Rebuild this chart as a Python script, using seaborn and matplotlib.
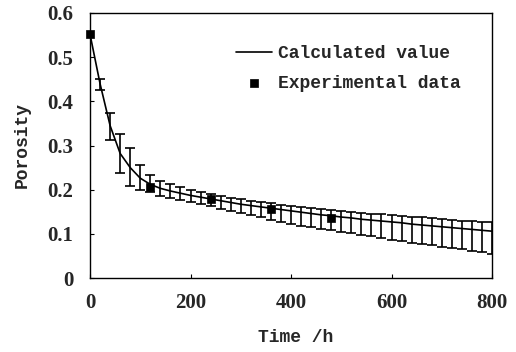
import numpy as np
import pandas as pd
import matplotlib
matplotlib.use("Agg")
import matplotlib.pyplot as plt
import seaborn as sns

# ---- data ----
time_h = [0, 20, 40, 60, 80, 100, 120, 140, 160, 180, 200, 220, 240, 260, 280, 300,
          320, 340, 360, 380, 400, 420, 440, 460, 480, 500, 520, 540, 560, 580, 600,
          620, 640, 660, 680, 700, 720, 740, 760, 780, 800]
calc_value = [0.552, 0.440, 0.345, 0.282, 0.250, 0.226, 0.212, 0.203, 0.197, 0.192,
              0.187, 0.183, 0.179, 0.175, 0.171, 0.167, 0.164, 0.161, 0.158, 0.155,
              0.152, 0.149, 0.146, 0.143, 0.141, 0.138, 0.136, 0.133, 0.131, 0.129,
              0.127, 0.125, 0.122, 0.120, 0.118, 0.116, 0.114, 0.112, 0.110, 0.108, 0.106]
upper_bound = [0.552, 0.451, 0.373, 0.327, 0.294, 0.256, 0.233, 0.220, 0.212, 0.206,
               0.200, 0.195, 0.190, 0.186, 0.182, 0.178, 0.175, 0.172, 0.169, 0.166,
               0.163, 0.160, 0.158, 0.156, 0.154, 0.152, 0.150, 0.148, 0.146, 0.144,
               0.142, 0.140, 0.138, 0.137, 0.135, 0.133, 0.132, 0.130, 0.129, 0.127, 0.126]
lower_bound = [0.552, 0.425, 0.313, 0.237, 0.209, 0.199, 0.194, 0.186, 0.182, 0.177,
               0.172, 0.167, 0.162, 0.157, 0.152, 0.148, 0.142, 0.137, 0.132, 0.127,
               0.122, 0.118, 0.115, 0.111, 0.108, 0.104, 0.101, 0.097, 0.094, 0.090,
               0.087, 0.084, 0.080, 0.077, 0.074, 0.071, 0.068, 0.065, 0.061, 0.058, 0.055]
exp_time = [0, 120, 240, 360, 480]
exp_porosity = [0.552, 0.205, 0.179, 0.157, 0.135]

x_ticks = [0, 200, 400, 600, 800]
y_ticks = [0, 0.1, 0.2, 0.3, 0.4, 0.5, 0.6]
y_tick_labels = ["0", "0.1", "0.2", "0.3", "0.4", "0.5", "0.6"]

calc_df = pd.DataFrame({"Time": time_h, "Porosity": calc_value})
exp_df = pd.DataFrame({"Time": exp_time, "Porosity": exp_porosity})

sns.set_style("ticks")
plt.rcParams["xtick.direction"] = "in"
plt.rcParams["ytick.direction"] = "in"

fig = plt.figure(figsize=(5.16, 3.52), dpi=100)
ax = fig.add_axes([90 / 516, 1 - 278 / 352, (492 - 90) / 516, (278 - 13) / 352])

sns.lineplot(data=calc_df, x="Time", y="Porosity", ax=ax, color="black",
             linewidth=1.2, label="Calculated value")
yerr_low = np.array(calc_value) - np.array(lower_bound)
yerr_high = np.array(upper_bound) - np.array(calc_value)
ax.errorbar(time_h[1:], calc_value[1:], yerr=[yerr_low[1:], yerr_high[1:]],
            fmt="none", ecolor="black", elinewidth=1.2, capsize=3.3, capthick=1.2)
sns.scatterplot(data=exp_df, x="Time", y="Porosity", ax=ax, color="black",
                marker="s", s=40, edgecolor="black", linewidth=0.5,
                label="Experimental data", zorder=5, clip_on=False)

ax.set_xlim(0, 800)
ax.set_ylim(0, 0.6)
ax.set_xticks(x_ticks)
ax.set_yticks(y_ticks)
tick_kw = dict(fontsize=15, fontweight="semibold", fontfamily="Liberation Serif")
ax.set_xticklabels([str(v) for v in x_ticks], **tick_kw)
ax.set_yticklabels(y_tick_labels, **tick_kw)

ax.tick_params(axis="both", length=3, width=0.8, color="black")
ax.tick_params(axis="y", pad=12)
ax.tick_params(axis="x", pad=11)

label_font = dict(family="Liberation Mono", size=13, weight="bold")
ax.set_xlabel("Time /h", fontdict=label_font, labelpad=4)
ax.set_ylabel("Porosity", fontdict=label_font, labelpad=6)
ax.xaxis.set_label_coords((296 - 90) / 402, -(337 - 278) / 265, transform=ax.transAxes)
ax.yaxis.set_label_coords(-(90 - 22) / 402, 0.5, transform=ax.transAxes)
ax.xaxis.label.set_va("center")
ax.yaxis.label.set_va("center")

for sp in ax.spines.values():
    sp.set_visible(True)
    sp.set_color("black")
    sp.set_linewidth(1.0)

leg = ax.legend(loc="upper left", bbox_to_anchor=(236 / 516, 1 - 45 / 352),
                bbox_transform=fig.transFigure, frameon=False,
                prop=dict(family="Liberation Mono", size=13, weight="bold"),
                handlelength=2.0, handletextpad=0.3, labelspacing=0.72,
                borderpad=0, borderaxespad=0)

fig.savefig("out.png", dpi=100)
